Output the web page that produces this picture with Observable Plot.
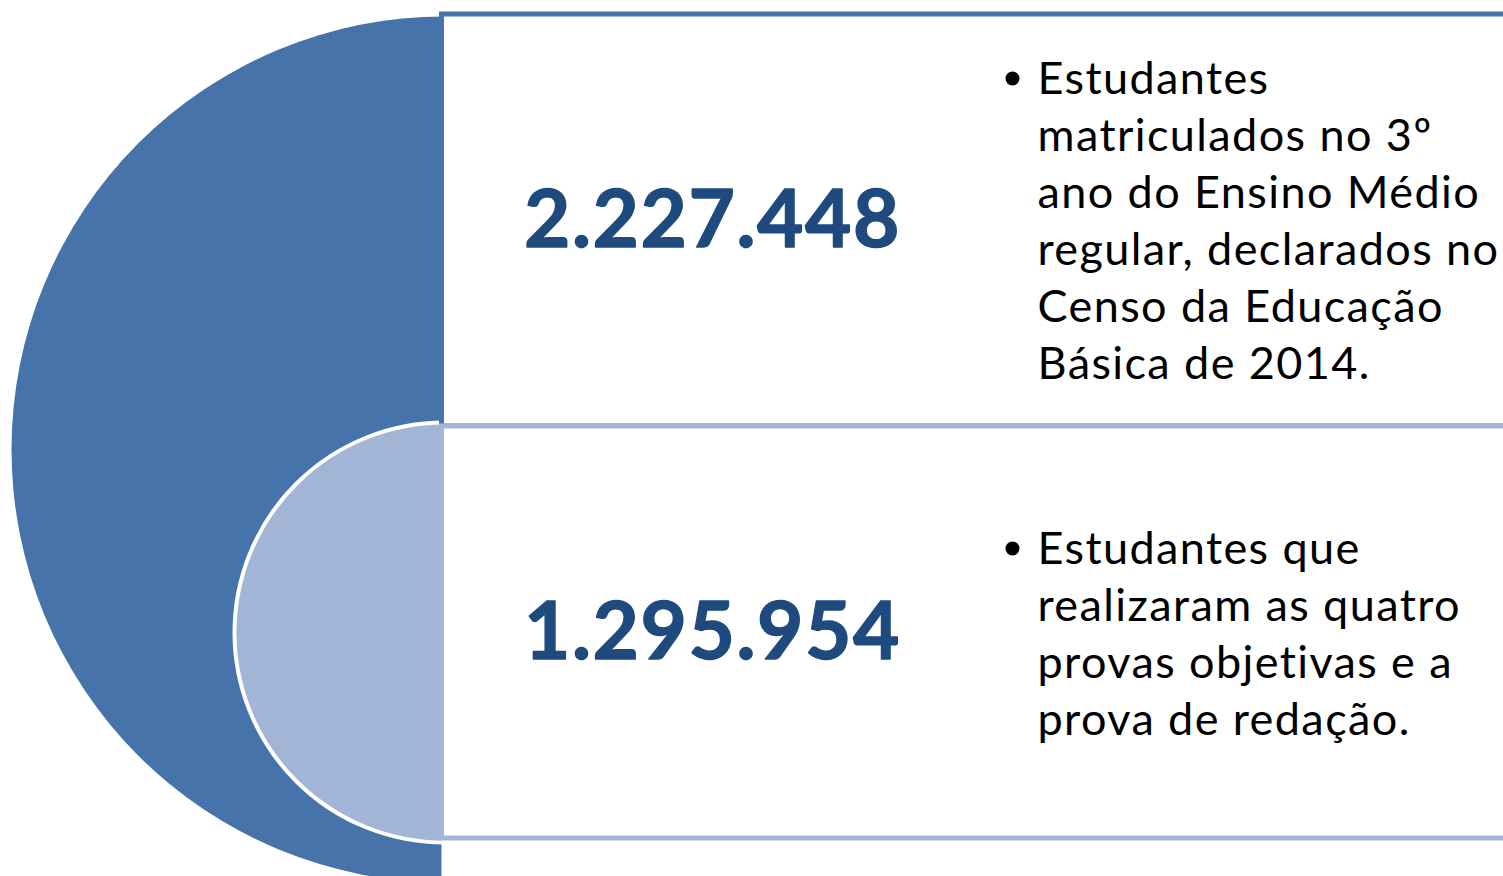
<!DOCTYPE html>
<html>
<head>
<meta charset="utf-8">
<script src="https://cdn.jsdelivr.net/npm/d3@7"></script>
<script src="https://cdn.jsdelivr.net/npm/@observablehq/plot@0.6"></script>
<style>
  html, body { margin: 0; padding: 0; background: #ffffff; }
  #chart svg { display: block; }
  #chart svg g.figures text { letter-spacing: 1.6px; }
  #chart svg g.lines text { letter-spacing: 1.4px; }
</style>
</head>
<body>
<div id="chart"></div>
<script>
// ---- data ----
const groups = ["matriculados", "participantes"];
const counts = [2227448, 1295954];
const figureLabels = ["2.227.448", "1.295.954"];
const descriptions = [
  ["Estudantes", "matriculados no 3º", "ano do Ensino Médio", "regular, declarados no", "Censo da Educação", "Básica de 2014."],
  ["Estudantes que", "realizaram as quatro", "provas objetivas e a", "prova de redação."]
];

// ---- layout (pixels) ----
const W = 1503, H = 876;
const discCx = 444;
const discs = [
  {cy: 449, r: 433, fill: "#4674AA", stroke: "none", sw: 0},
  {cy: 632, r: 210, fill: "#A3B5D6", stroke: "#ffffff", sw: 4}
];
const panels = [
  {y1: 14, y2: 426, stroke: "#4674AA"},
  {y1: 426, y2: 838, stroke: "#A3B5D6"}
];
const panelX1 = 441.5, panelX2 = W + 10;
const figureX = 712, figureY = [246, 658];
const textX = 1037, bulletX = 1012;
const firstBaseline = [93, 563];
const lineStep = 57;

const discData = discs.map((d, i) => ({...d, x: discCx, y: d.cy, group: groups[i]}));
const panelData = panels.map((p, i) => ({...p, x1: panelX1, x2: panelX2, group: groups[i]}));
const figureData = figureLabels.map((t, i) => ({text: t, value: counts[i], x: figureX, y: figureY[i]}));
const lineData = descriptions.flatMap((lines, i) =>
  lines.map((t, j) => ({text: t, x: textX, y: firstBaseline[i] + j * lineStep})));
const bulletData = descriptions.map((lines, i) => ({x: bulletX, y: firstBaseline[i] - 15}));

const chart = Plot.plot({
  width: W,
  height: H,
  margin: 0,
  x: {domain: [0, W], range: [0, W], axis: null},
  y: {domain: [0, H], range: [0, H], axis: null},
  style: {background: "#ffffff", overflow: "hidden"},
  marks: [
    Plot.dot(discData.slice(0, 1), {x: "x", y: "y", r: discData[0].r, fill: discData[0].fill, stroke: "none"}),
    Plot.dot(discData.slice(1), {x: "x", y: "y", r: discData[1].r, fill: discData[1].fill, stroke: discData[1].stroke, strokeWidth: discData[1].sw}),
    Plot.rect([{x1: panelX1, x2: panelX2, y1: 0, y2: H}], {x1: "x1", x2: "x2", y1: "y1", y2: "y2", fill: "#ffffff"}),
    Plot.rect(panelData, {x1: "x1", x2: "x2", y1: "y1", y2: "y2", fill: "#ffffff", stroke: "stroke", strokeWidth: 5}),
    Plot.text(figureData, {x: "x", y: "y", text: "text", fontSize: 80, fontWeight: "bold", fill: "#1F4A7E", stroke: "#1F4A7E", strokeWidth: 1.4, textAnchor: "middle", lineAnchor: "bottom", fontFamily: "Lato", className: "figures"}),
    Plot.dot(bulletData, {x: "x", y: "y", r: 7, fill: "#000000", stroke: "none"}),
    Plot.text(lineData, {x: "x", y: "y", text: "text", fontSize: 45, fill: "#000000", textAnchor: "start", lineAnchor: "bottom", fontFamily: "Lato", className: "lines"})
  ]
});
document.getElementById("chart").appendChild(chart);
</script>
</body>
</html>
